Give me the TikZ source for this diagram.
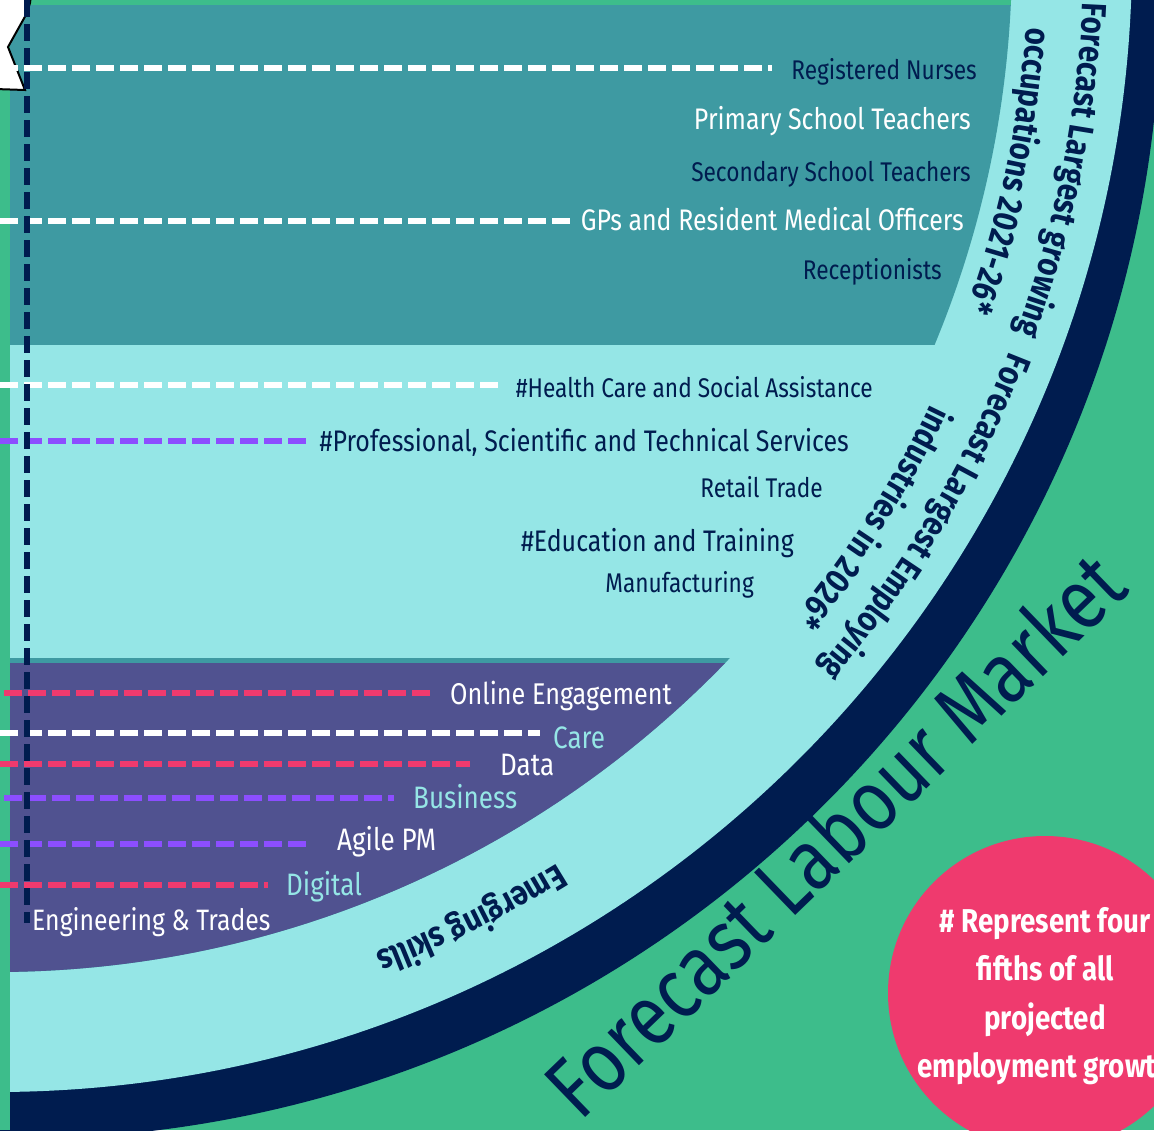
\documentclass[tikz,border=0pt]{standalone}
\usepackage{fontspec}
\setmainfont{Fira Sans}[FakeStretch=0.84]
\usetikzlibrary{decorations.text}

\definecolor{fieldgreen}{RGB}{61,189,139}
\definecolor{deepnavy}{RGB}{0,28,79}
\definecolor{ringcyan}{RGB}{149,230,230}
\definecolor{occteal}{RGB}{62,154,162}
\definecolor{skillpurple}{RGB}{80,82,144}
\definecolor{dashpink}{RGB}{239,58,110}
\definecolor{dashviolet}{RGB}{140,78,255}

\newcommand\toplabelfont{\fontsize{27}{27}\selectfont}
\newcommand\biglabelfont{\fontsize{29.7}{29.7}\selectfont}
\newcommand\skilllabelfont{\fontsize{31}{31}\selectfont}
\newcommand\curvefont{\fontsize{35}{35}\selectfont\bfseries\color{deepnavy}}
\newcommand\marketfont{\fontsize{86}{86}\selectfont}
\newcommand\notefont{\fontsize{33}{48.5}\selectfont\bfseries}

\tikzset{
  toplabel/.style={anchor=base east, inner sep=0pt, font=\toplabelfont},
  skilllabel/.style={anchor=base west, inner sep=0pt, font=\skilllabelfont},
  dashline/.style={line width=5.5pt, dash pattern=on 18pt off 6pt, #1},
  curvelabel/.style={decorate, decoration={text along path, text align=center, text={|\curvefont|#1}}},
}

\begin{document}
\begin{tikzpicture}[x=1pt, y=-1pt]
  \useasboundingbox (0,0) rectangle (1154,1130);
  \clip (0,0) rectangle (1154,1130);
  \fill[fieldgreen] (0,0) rectangle (1154,1130);

  % rings
  \coordinate (cen) at (-5,-45);
  \fill[deepnavy] (15,-7) circle[radius=1146pt];
  \fill[ringcyan] (cen) circle[radius=1137pt];
  \begin{scope}
    \clip (cen) circle[radius=1017pt];
    \fill[fieldgreen] (10,0) rectangle (1154,5);
    \fill[occteal] (10,5) rectangle (1154,345);
    \fill[occteal] (10,658) rectangle (1154,1130);
    \fill[skillpurple] (10,663) rectangle (1154,1130);
  \end{scope}
  \fill[fieldgreen] (0,0) rectangle (10,1130);

  % ribbon end
  \filldraw[fill=white, draw=black, line width=2pt]
    (-5,-5) -- (31,-5) -- (30,3) -- (27,13) -- (8,47) -- (25,90) -- (-5,89) -- cycle;

  % occupations
  \node[toplabel, text=deepnavy] (nurses) at (977,79) {Registered Nurses};
  \node[toplabel, font=\biglabelfont, text=white] (primary) at (971,129) {Primary School Teachers};
  \node[toplabel, text=deepnavy] (secondary) at (971,181) {Secondary School Teachers};
  \node[toplabel, font=\biglabelfont, text=white] (gps) at (964,230) {GPs and Resident Medical Officers};
  \node[toplabel, text=deepnavy] (reception) at (942,279) {Receptionists};

  % industries
  \node[toplabel, text=deepnavy] (health) at (873,397) {\#Health Care and Social Assistance};
  \node[toplabel, font=\biglabelfont, text=deepnavy] (professional) at (849,451) {\#Professional, Scientific and Technical Services};
  \node[toplabel, text=deepnavy] (retail) at (823,497) {Retail Trade};
  \node[toplabel, font=\biglabelfont, text=deepnavy] (education) at (794,551) {\#Education and Training};
  \node[toplabel, text=deepnavy] (manufacturing) at (754,592) {Manufacturing};

  % skills
  \node[skilllabel, font=\fontsize{30}{30}\selectfont, text=white] (online) at (450,704) {Online Engagement};
  \node[skilllabel, text=ringcyan] (care) at (553,748) {Care};
  \node[skilllabel, text=white] (data) at (500,775) {Data};
  \node[skilllabel, text=ringcyan] (business) at (413,808) {Business};
  \node[skilllabel, text=white] (agile) at (337,850) {Agile PM};
  \node[skilllabel, text=ringcyan] (digital) at (286,895) {Digital};
  \node[skilllabel, font=\fontsize{29.5}{29.5}\selectfont, text=white] (engineering) at (32,930) {Engineering \& Trades};

  \coordinate (nursesleft) at (0,68);
  \coordinate (gpsleft) at (0,221);
  \coordinate (healthleft) at (0,385);
  \coordinate (professionalleft) at (0,441);
  \coordinate (onlineleft) at (4,693);
  \coordinate (careleft) at (0,733);
  \coordinate (dataleft) at (0,764);
  \coordinate (businessleft) at (4,798);
  \coordinate (agileleft) at (0,844);
  \coordinate (digitalleft) at (0,885);
  \draw[dashline=white, shorten >=19pt] (nursesleft) -- (nursesleft -| nurses.west);
  \draw[dashline=white, shorten >=11pt] (gpsleft) -- (gpsleft -| gps.west);
  \draw[dashline=white, shorten >=18pt] (healthleft) -- (healthleft -| health.west);
  \draw[dashline=dashviolet, shorten >=10pt] (professionalleft) -- (professionalleft -| professional.west);
  \draw[dashline=dashpink, shorten >=20pt] (onlineleft) -- (onlineleft -| online.west);
  \draw[dashline=white, shorten >=13pt] (careleft) -- (careleft -| care.west);
  \draw[dashline=dashpink, shorten >=30pt] (dataleft) -- (dataleft -| data.west);
  \draw[dashline=dashviolet, shorten >=19pt] (businessleft) -- (businessleft -| business.west);
  \draw[dashline=dashviolet, shorten >=29pt] (agileleft) -- (agileleft -| agile.west);
  \draw[dashline=dashpink, shorten >=18pt] (digitalleft) -- (digitalleft -| digital.west);

  \coordinate (spinetop) at (27,0);
  \coordinate (spinebottom) at (27,923);
  \draw[line width=6pt, dash pattern=on 17pt off 7pt, deepnavy] (spinetop) -- (spinebottom);

  % ring captions
  \path[curvelabel={Forecast Largest growing}]
    ([shift={(0.6:1089pt)}]cen) arc[start angle=0.6, end angle=-23.4, radius=1089pt];
  \path[curvelabel={occupations 2021-26*}]
    ([shift={(0.2:1034pt)}]cen) arc[start angle=0.2, end angle=-24.2, radius=1034pt];
  \path[curvelabel={Forecast Largest Employing}]
    ([shift={(-19.1:1089pt)}]cen) arc[start angle=-19.1, end angle=-43.1, radius=1089pt];
  \path[curvelabel={industries in 2026*}]
    ([shift={(-20.6:1038pt)}]cen) arc[start angle=-20.6, end angle=-44.6, radius=1038pt];
  \path[curvelabel={Emerging skills}]
    ([shift={(-51.7:1068pt)}]cen) arc[start angle=-51.7, end angle=-75.7, radius=1068pt];

  \node[font=\marketfont, text=deepnavy, rotate=44, inner sep=0pt] (market) at (834,834) {Forecast Labour Market};

  % note
  \fill[dashpink] (1045,993) circle[radius=157pt];
  \node[font=\notefont, text=white, align=center, inner sep=0pt] (note) at (1045,996)
    {\# Represent four\\fifths of all\\projected\\employment growth};
\end{tikzpicture}
\end{document}
